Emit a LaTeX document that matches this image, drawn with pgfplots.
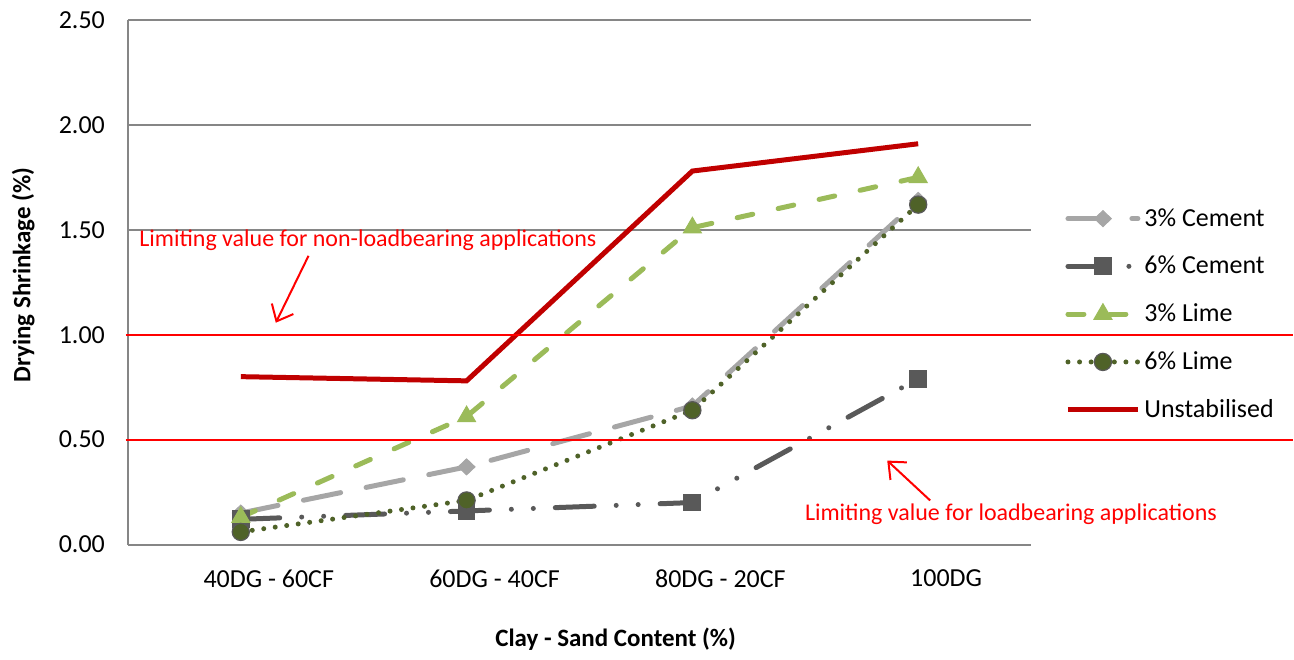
\documentclass[border=0pt]{standalone}
\usepackage{fontspec}
\setmainfont{Carlito}
\usepackage{pgfplots}
\pgfplotsset{compat=1.18}
\usetikzlibrary{arrows.meta}
\definecolor{cem3}{HTML}{A6A6A6}
\definecolor{cem6}{HTML}{595959}
\definecolor{lime3}{HTML}{9BBB59}
\definecolor{lime6}{HTML}{4F6228}
\definecolor{unst}{HTML}{C00000}
\definecolor{gridc}{HTML}{868686}
\begin{document}
\begin{tikzpicture}
\begin{axis}[
  scale only axis, width=452pt, height=262.5pt,
  xmin=-0.5, xmax=3.5, ymin=0, ymax=2.5,
  clip=false,
  xtick={0,1,2,3},
  xticklabels={40DG - 60CF, 60DG - 40CF, 80DG - 20CF, 100DG},
  ytick={0,0.5,1,1.5,2,2.5},
  axis x line*=bottom, axis y line*=left,
  axis line style={gridc, line width=1pt, -},
  ymajorgrids, major grid style={gridc, line width=1pt},
  major tick length=0pt,
  tick label style={font=\fontsize{13}{15}\selectfont},
  yticklabel style={xshift=-8pt, /pgf/number format/.cd, fixed, fixed zerofill, precision=2},
  /pgf/number format/assume math mode=true,
  xticklabel style={yshift=-9pt, xshift=14pt},
  xlabel={Clay - Sand Content (\%)},
  ylabel={Drying Shrinkage (\%)},
  label style={font=\fontsize{12.5}{14}\selectfont\bfseries},
  xlabel style={at={(axis description cs:0.54,-0.181)}, anchor=center},
  ylabel style={at={(axis description cs:-0.116,0.514)}, anchor=center},
  legend style={at={(axis description cs:1.031,0.657)}, anchor=north west,
    draw=none, fill=none, font=\fontsize{13}{15}\selectfont, row sep=9.5pt,
    cells={anchor=west}},
  legend image code/.code={\draw[mark repeat=2,mark phase=2,#1] plot coordinates {(0pt,0pt) (17.5pt,0pt) (35pt,0pt)};},
]
\addplot[cem3, line width=2.5pt, line cap=round, dash pattern=on 19pt off 13pt,
  mark=diamond*, mark size=4pt, mark options={solid, xscale=1.4, fill=cem3, draw=cem3, line width=0.5pt}]
  coordinates {(0,0.15) (1,0.37) (2,0.66) (3,1.64)};
\addlegendentry{3\% Cement}
\addplot[cem6, line width=2.5pt, line cap=round, dash pattern=on 19.5pt off 11pt on 0pt off 11pt on 0pt off 11pt,
  mark=square*, mark size=4.2pt, mark options={solid, fill=cem6, draw=cem6, line width=0.5pt}]
  coordinates {(0,0.12) (1,0.16) (2,0.20) (3,0.79)};
\addlegendentry{6\% Cement}
\addplot[lime3, line width=2.5pt, line cap=round, dash pattern=on 8pt off 13pt,
  mark=triangle*, mark size=5.2pt, mark options={solid, fill=lime3, draw=lime3, line width=0.5pt}]
  coordinates {(0,0.13) (1,0.61) (2,1.51) (3,1.75)};
\addlegendentry{3\% Lime}
\addplot[lime6, line width=2.5pt, line cap=round, dash pattern=on 0pt off 5.8pt,
  mark=*, mark size=4.3pt, mark options={solid, fill=lime6, draw=cem6, line width=0.6pt}]
  coordinates {(0,0.06) (1,0.21) (2,0.64) (3,1.62)};
\addlegendentry{6\% Lime}
\addplot[unst, line width=2.5pt, mark=none]
  coordinates {(0,0.80) (1,0.78) (2,1.78) (3,1.91)};
\addlegendentry{Unstabilised}
\addplot[red, line width=1pt, forget plot] coordinates {(-0.51,1) (4.66,1)};
\addplot[red, line width=1pt, forget plot] coordinates {(-0.51,0.5) (4.66,0.5)};
\draw[red, line width=1pt, -{Straight Barb[length=7pt, width=12pt]}] (axis cs:0.300,1.376) -- (axis cs:0.155,1.057);
\draw[red, line width=1pt, -{Straight Barb[length=7pt, width=12pt]}] (axis cs:3.053,0.21) -- (axis cs:2.863,0.40);
\node[anchor=west, text=red, font=\fontsize{12}{14}\selectfont, inner sep=0pt] at (axis cs:-0.451,1.452) {Limiting value for non-loadbearing applications};
\node[anchor=west, text=red, font=\fontsize{12}{14}\selectfont, inner sep=0pt] at (axis cs:2.497,0.143) {Limiting value for loadbearing applications};
\path (rel axis cs:-0.1416,1.0381) rectangle (rel axis cs:1.2898,-0.219);
\end{axis}
\end{tikzpicture}
\end{document}
